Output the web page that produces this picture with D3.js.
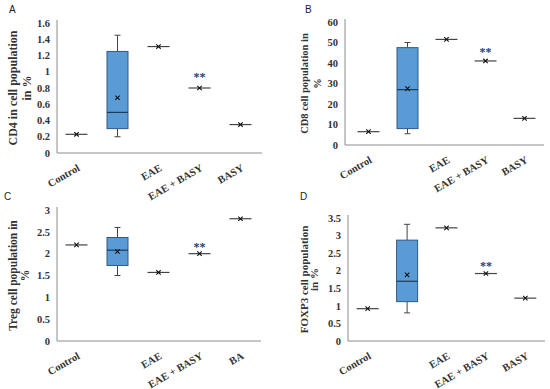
<!DOCTYPE html>
<html>
<head>
<meta charset="utf-8">
<script src="https://cdn.jsdelivr.net/npm/d3@7"></script>
<style>
  body { margin: 0; background: #fff; }
  svg { display: block; }
</style>
</head>
<body>
<script>
// categories (slot 1 holds the box plot, no label)
const groups = ["Control", "", "EAE", "EAE + BASY", "BASY"]
const groupsC = ["Control", "", "EAE", "EAE + BASY", "BA"]

// box stats: low, q1, median, q3, high, mean
const cd4Box = [0.2, 0.3, 0.5, 1.25, 1.45, 0.68]
const cd8Box = [5.5, 8, 27, 47.5, 50, 27.5]
const tregBox = [1.5, 1.73, 2.08, 2.37, 2.6, 2.05]
const foxp3Box = [0.8, 1.12, 1.7, 2.87, 3.32, 1.88]

// single values per group (null where the box sits)
const cd4Vals = [0.23, null, 1.31, 0.80, 0.35]
const cd8Vals = [6.5, null, 51.5, 41, 13]
const tregVals = [2.2, null, 1.57, 2.0, 2.8]
const foxp3Vals = [0.92, null, 3.22, 1.92, 1.22]

// "**" height
const stars = [0.97, 47, 2.22, 2.22]

// y-axis ticks
const cd4Ticks = [0, 0.2, 0.4, 0.6, 0.8, 1, 1.2, 1.4, 1.6]
const cd8Ticks = [0, 10, 20, 30, 40, 50, 60]
const tregTicks = [0, 0.5, 1, 1.5, 2, 2.5, 3]
const foxp3Ticks = [0, 0.5, 1, 1.5, 2, 2.5, 3, 3.5]

const W = 550, H = 389
const svg = d3.select("body").append("svg").attr("width", W).attr("height", H)

const serif = "'Liberation Serif', 'Times New Roman', serif"

function drawPanel(p) {
    let g = svg.append("g")

    let y = d3.scaleLinear().domain([0, p.ticks[p.ticks.length - 1]]).range([p.yBot, p.yTop])
    let x = d3.scaleBand().domain(d3.range(5)).range([p.bx0, p.bx1])
    let cx = i => x(i) + x.bandwidth() / 2

    // panel letter
    g.append("text").attr("x", p.lx).attr("y", p.ly)
        .attr("font-family", "'Liberation Sans', Arial, sans-serif")
        .attr("font-size", 10).attr("fill", "#222").text(p.letter)

    // axes
    g.append("line").attr("x1", p.ax).attr("x2", p.ax).attr("y1", p.yTop - 3).attr("y2", p.yBot)
        .attr("stroke", "#8c8c8c").attr("stroke-width", 1)
    g.append("line").attr("x1", p.ax).attr("x2", p.axEnd).attr("y1", p.yBot).attr("y2", p.yBot)
        .attr("stroke", "#8c8c8c").attr("stroke-width", 1)

    g.selectAll(".ytick").data(p.ticks).join("text")
        .attr("x", p.ax - 7).attr("y", d => y(d)).attr("dy", "0.35em")
        .attr("text-anchor", "end").attr("font-family", serif).attr("font-weight", "bold")
        .attr("font-size", 10.5).attr("fill", "#333").text(d => d)

    // x labels
    p.cats.forEach((c, i) => {
        if (!c) return
        g.append("text")
            .attr("transform", "translate(" + (cx(i) + 4) + "," + (p.yBot + 17) + ") rotate(-30)")
            .attr("text-anchor", "end").attr("font-family", serif).attr("font-weight", "bold")
            .attr("font-size", 10.5).attr("fill", "#333").text(c)
    })

    // y title
    let ymid = (p.yTop + p.yBot) / 2
    p.title.forEach((t, k) => {
        g.append("text")
            .attr("transform", "translate(" + (p.tx + k * p.tsp) + "," + ymid + ") rotate(-90)")
            .attr("text-anchor", "middle").attr("dy", "0.35em")
            .attr("font-family", serif).attr("font-weight", "bold")
            .attr("font-size", p.tfs).attr("fill", "#333").text(t)
    })

    let bw = 21
    // box plot
    let b = p.box, bc = cx(1)
    g.append("line").attr("x1", bc).attr("x2", bc).attr("y1", y(b[3])).attr("y2", y(b[4])).attr("stroke", "#444")
    g.append("line").attr("x1", bc).attr("x2", bc).attr("y1", y(b[1])).attr("y2", y(b[0])).attr("stroke", "#444")
    g.append("line").attr("x1", bc - 3).attr("x2", bc + 3).attr("y1", y(b[4])).attr("y2", y(b[4])).attr("stroke", "#444")
    g.append("line").attr("x1", bc - 3).attr("x2", bc + 3).attr("y1", y(b[0])).attr("y2", y(b[0])).attr("stroke", "#444")
    g.append("rect").attr("x", bc - bw / 2).attr("width", bw)
        .attr("y", y(b[3])).attr("height", y(b[1]) - y(b[3]))
        .attr("fill", "#5b9bd5").attr("stroke", "#2f5a86").attr("stroke-width", 1)
    g.append("line").attr("x1", bc - bw / 2).attr("x2", bc + bw / 2).attr("y1", y(b[2])).attr("y2", y(b[2]))
        .attr("stroke", "#1f3a5a").attr("stroke-width", 1.2)
    cross(g, bc, y(b[5]))

    // single values
    p.vals.forEach((v, i) => {
        if (v === null) return
        g.append("line").attr("x1", cx(i) - 11).attr("x2", cx(i) + 11).attr("y1", y(v)).attr("y2", y(v))
            .attr("stroke", "#444").attr("stroke-width", 1.2)
        cross(g, cx(i), y(v))
    })

    // significance
    g.append("text").attr("x", cx(3)).attr("y", y(p.star)).attr("dy", "0.6em")
        .attr("text-anchor", "middle").attr("font-family", serif).attr("font-weight", "bold")
        .attr("font-size", 12).attr("fill", "#24407a").text("**")
}

function cross(g, px, py) {
    let s = 2.2
    g.append("path").attr("d", `M${px - s},${py - s}L${px + s},${py + s}M${px - s},${py + s}L${px + s},${py - s}`)
        .attr("stroke", "#111").attr("stroke-width", 1.1)
}

drawPanel({ letter: "A", lx: 9, ly: 13, ax: 57, axEnd: 262, bx0: 56, bx1: 261, yTop: 23, yBot: 153,
    ticks: cd4Ticks, box: cd4Box, vals: cd4Vals, star: stars[0], cats: groups,
    title: ["CD4 in cell population", "in %"], tx: 13, tsp: 14, tfs: 12 })
drawPanel({ letter: "B", lx: 305, ly: 13, ax: 345, axEnd: 544, bx0: 349, bx1: 544, yTop: 22, yBot: 145,
    ticks: cd8Ticks, box: cd8Box, vals: cd8Vals, star: stars[1], cats: groups,
    title: ["CD8 cell population in", "%"], tx: 304, tsp: 13, tfs: 10.5 })
drawPanel({ letter: "C", lx: 4, ly: 200, ax: 57, axEnd: 261, bx0: 56, bx1: 261, yTop: 210, yBot: 341,
    ticks: tregTicks, box: tregBox, vals: tregVals, star: stars[2], cats: groupsC,
    title: ["Treg cell population in", "%"], tx: 13, tsp: 12, tfs: 11.5 })
drawPanel({ letter: "D", lx: 300, ly: 200, ax: 348, axEnd: 545, bx0: 348, bx1: 545, yTop: 218, yBot: 341,
    ticks: foxp3Ticks, box: foxp3Box, vals: foxp3Vals, star: stars[3], cats: groups,
    title: ["FOXP3 cell population", "in %"], tx: 304, tsp: 10, tfs: 11 })
</script>
</body>
</html>
